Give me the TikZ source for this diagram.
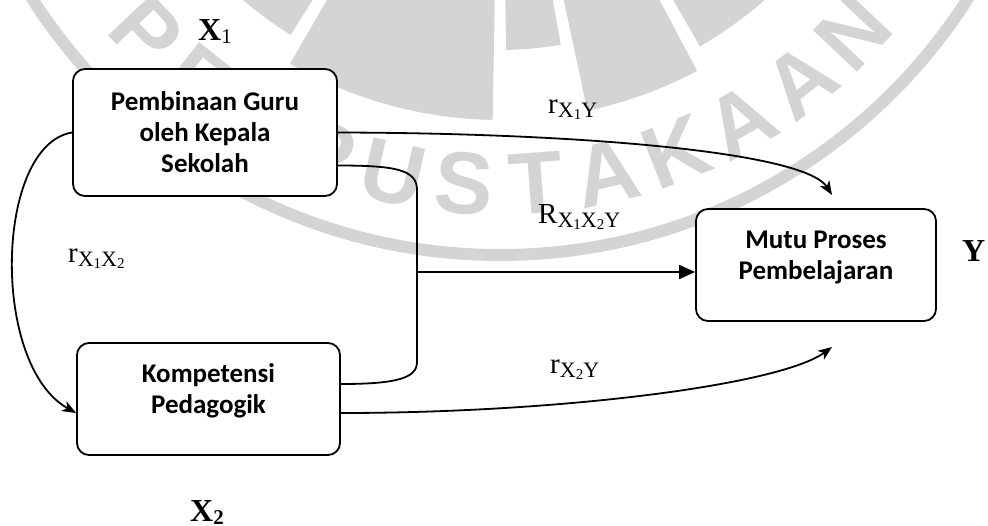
\documentclass[tikz,border=0pt]{standalone}
\usepackage{fontspec}
\setmainfont{Liberation Serif}
\newfontfamily\boxfont{Carlito}
\newfontfamily\wmfont{Liberation Sans}
\usetikzlibrary{arrows.meta}
\definecolor{wmgray}{RGB}{212,212,212}
\newcommand{\subX}[1]{\raisebox{-4pt}{\fontsize{22}{22}\selectfont #1}}
\newcommand{\dg}[1]{\raisebox{-2pt}{\fontsize{15}{15}\selectfont #1}}
\tikzset{
  box/.style={draw, line width=1.8pt, rounded corners=12pt, fill=white, inner sep=0pt},
  boxtext/.style={font=\boxfont\bfseries\fontsize{27}{31}\selectfont, align=center, inner sep=0pt},
  conn/.style={line width=1.8pt},
  curvetip/.style={-{Stealth[length=14pt,width=11pt,inset=4pt]}},
  striptip/.style={-{Triangle[length=16pt,width=14pt]}},
  lbl/.style={font=\fontsize{29}{29}\selectfont, inner sep=0pt, anchor=base west},
  varlbl/.style={font=\fontsize{32}{32}\selectfont\bfseries, inner sep=0pt, anchor=base west},
  wmletter/.style={font=\wmfont\bfseries\fontsize{88}{88}\selectfont, text=wmgray, inner sep=0pt},
  wm/.style={fill=wmgray}
}
\begin{document}
\begin{tikzpicture}[x=1pt,y=-1pt]
\useasboundingbox (0,0) rectangle (988,525);
% watermark
\begin{scope}
\clip (0,0) rectangle (988,525);
\draw[wmgray, line width=12pt] (500,-300) circle[radius=555];
\foreach \th/\tt/\ro in {-44/-32/395, -30/-1/420, 1/10/350, 12/28/420, 30/42/400}{
  \fill[wm] plot[domain=\th:\tt, samples=20] ({500+\ro*sin(\x)},{-300+\ro*cos(\x)})
     -- plot[domain=\tt:\th, samples=20] ({500+250*sin(\x)},{-300+250*cos(\x)}) -- cycle;
}
\foreach \ch [count=\i] in {P,E,R,P,U,S,T,A,K,A,A,N}{
  \pgfmathsetmacro\ang{(\i-6.5)*8.5}
  \node[wmletter, rotate=\ang] (wm\i) at ({500+485*sin(\ang)},{-300+485*cos(\ang)}) {\ch};
}
\end{scope}
% boxes
\node[box, minimum width=264pt, minimum height=127pt, boxtext] (b1) at (205,132.5) {Pembinaan Guru\\oleh Kepala\\Sekolah};
\node[box, minimum width=263pt, minimum height=112pt] (b2) at (208.5,399) {};
\node[boxtext] (b2t) at ([yshift=8pt]b2.center) {Kompetensi\\Pedagogik};
\node[box, minimum width=240pt, minimum height=112pt] (b3) at (816,265) {};
\node[boxtext] (b3t) at ([yshift=7.5pt]b3.center) {Mutu Proses\\Pembelajaran};
% coordinates
\coordinate (t1) at (832,195);
\coordinate (t2) at (832,347);
\coordinate (v1) at (417,190);
\coordinate (v2) at (417,362);
\coordinate (j) at (417,272);
% connectors
\draw[conn, curvetip] (b1.east) .. controls (580,133) and (805,152) .. (t1);
\draw[conn] ([yshift=-33pt]b1.east) .. controls (397,165.5) and (417,170) .. (v1) -- (v2)
   .. controls (417,378) and (397,384) .. ([yshift=15pt]b2.east);
\draw[conn, striptip] (j) -- (j -| b3.west);
\draw[conn, curvetip] (b1.west) .. controls (-5,145) and (-10,365) .. ([yshift=-14pt]b2.west);
\draw[conn, curvetip] ([yshift=-14pt]b2.east) .. controls (560,413) and (780,385) .. (t2);
% labels
\node[lbl] (l1) at (68,262) {r\subX{X\dg{1}X\dg{2}}};
\node[lbl] (l2) at (548,113) {r\subX{X\dg{1}Y}};
\node[lbl] (l3) at (538,223) {R\subX{X\dg{1}X\dg{2}Y}};
\node[lbl] (l4) at (550,373) {r\subX{X\dg{2}Y}};
\node[varlbl] (x1) at (198,40) {X\raisebox{-3pt}{\fontsize{21}{21}\selectfont\mdseries 1}};
\node[varlbl] (x2) at (190,521) {X\raisebox{-3pt}{\fontsize{21}{21}\selectfont 2}};
\node[varlbl] (y) at (962,261) {Y};
\end{tikzpicture}
\end{document}
